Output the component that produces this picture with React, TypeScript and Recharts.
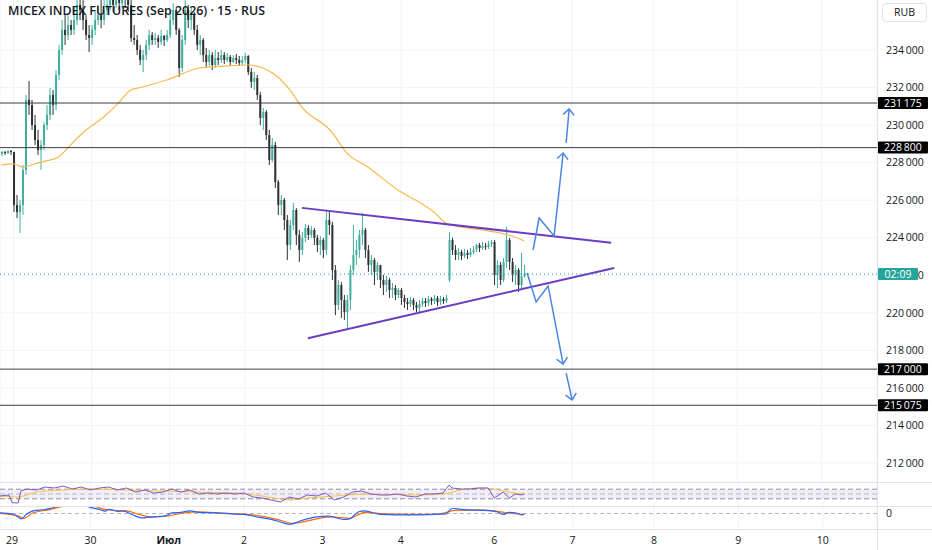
import React from 'react';
import { ComposedChart, Bar, Line, XAxis, YAxis, CartesianGrid, ReferenceLine, ReferenceArea } from 'recharts';

// ---------- candles (15 min bars) ----------
const OPEN = [
  228460, 228570, 228510, 228620, 228570, 225740, 225370, 225740, 227610, 231340,
  231070, 230000, 229210, 228670, 228940, 230000, 230540, 231600, 231070, 232670,
  234000, 235070, 234800, 235330, 235070, 235600, 236400, 236130, 235600, 234800,
  234640, 235070, 235600, 235860, 235600, 236130, 236400, 236930, 236400, 236770,
  236500, 236930, 236660, 236400, 234640, 234530, 234000, 233470, 233730, 234270,
  234800, 234530, 234640, 234430, 234750, 234530, 234800, 235600, 236130, 235070,
  233040, 234530, 236130, 235600, 235860, 235070, 234270, 234530, 233730, 233360,
  233730, 233200, 233570, 233470, 233730, 233470, 233630, 233360, 233570, 233470,
  233310, 233470, 233680, 232830, 232300, 232510, 231600, 230380, 230700, 229470,
  228140, 228940, 226970, 225740, 226010, 224940, 223610, 224680, 225480, 224150,
  223350, 223990, 224520, 224150, 224410, 223990, 223610, 223880, 223350, 224940,
  224680, 222280, 220420, 221480, 220680, 220040, 220680, 222280, 223080, 223350,
  224150, 224410, 223350, 222550, 222810, 222180, 222550, 221750, 221480, 221750,
  221220, 221320, 220950, 221220, 220790, 220580, 220470, 220680, 220420, 220260,
  220470, 220630, 220520, 220740, 220630, 220790, 220580, 220740, 220630, 221750,
  223880, 223350, 223080, 223240, 223030, 223190, 223080, 223240, 223350, 223610,
  223450, 223560, 223510, 223670, 223770, 222020, 222550, 221750, 222710, 223880,
  222710, 222020, 222280, 221480, 221960,
];
const HIGH = [
  228620, 228620, 228670, 228670, 228570, 226280, 226010, 227870, 231600, 232350,
  231340, 230540, 229740, 229210, 230160, 231070, 231980, 231870, 232930, 234270,
  235600, 235860, 235860, 235600, 236240, 236660, 236930, 236660, 235860, 235330,
  235330, 236130, 236400, 236660, 236930, 237200, 237460, 237200, 237460, 237200,
  237730, 237300, 237200, 236660, 235330, 234800, 234270, 234000, 234530, 235070,
  234960, 234910, 234800, 235070, 234800, 235070, 236130, 236500, 236240, 235170,
  234800, 236660, 236400, 236240, 236020, 235330, 234800, 234640, 234110, 234000,
  233890, 234000, 233890, 234000, 233890, 233840, 233730, 233730, 233790, 233680,
  233680, 233840, 233730, 233040, 232830, 232670, 231760, 230910, 230800, 229740,
  229310, 229100, 227080, 226280, 226120, 225210, 224940, 225850, 225580, 224410,
  224310, 224730, 224680, 224630, 224520, 224150, 224090, 223990, 225480, 225370,
  224840, 222550, 221750, 221640, 220950, 220950, 222550, 224680, 223880, 224410,
  225320, 224520, 223610, 223080, 222920, 222710, 222550, 222020, 221960, 221860,
  221590, 221480, 221320, 221320, 220950, 220790, 220840, 220790, 220580, 220680,
  220790, 220790, 220900, 220840, 220950, 220900, 220900, 220840, 220950, 224310,
  223990, 223610, 223450, 223350, 223400, 223350, 223450, 223560, 223670, 223720,
  223770, 223720, 223830, 223880, 223880, 222810, 222710, 222920, 224570, 223990,
  222920, 222550, 222390, 223190, 222550,
];
const LOW = [
  228350, 228410, 228460, 228410, 225370, 225050, 224250, 225210, 227340, 230540,
  229740, 228940, 228410, 227610, 228670, 229740, 230270, 230540, 230800, 232400,
  233730, 234270, 234530, 234800, 234800, 235330, 235600, 235070, 234530, 233890,
  234270, 234800, 235330, 235170, 235330, 235860, 236130, 236020, 236240, 236130,
  236240, 236240, 236020, 234430, 234270, 233730, 233200, 232830, 233470, 234000,
  234270, 234270, 234110, 234270, 234210, 234430, 234640, 235330, 234800, 232560,
  232830, 234270, 235170, 235070, 234800, 234000, 233730, 233360, 233040, 233150,
  232930, 233040, 233200, 233310, 233250, 233360, 233200, 233310, 233250, 233150,
  233200, 233310, 232670, 231980, 231870, 231340, 230000, 229740, 229210, 227870,
  228030, 226650, 225210, 225210, 224410, 222810, 223350, 224410, 223610, 222710,
  223080, 223770, 223880, 223990, 223610, 223240, 223080, 222920, 223080, 224150,
  221750, 219880, 220150, 219720, 219620, 219080, 220150, 222020, 222550, 222920,
  223610, 222920, 222180, 222020, 221480, 221750, 221320, 220950, 221110, 220790,
  220790, 220680, 220790, 220420, 220260, 220150, 220310, 220150, 220040, 220040,
  220310, 220310, 220360, 220420, 220470, 220360, 220420, 220470, 220520, 221640,
  223080, 222810, 222810, 222810, 222920, 222870, 222970, 223130, 223240, 223240,
  223350, 223350, 223400, 223510, 221480, 221320, 221480, 221640, 222390, 222280,
  221640, 221480, 221110, 221320, 221860,
];
const CLOSE = [
  228570, 228510, 228620, 228570, 225740, 225370, 225740, 227610, 231340, 231070,
  230000, 229210, 228670, 228940, 230000, 230540, 231600, 231070, 232670, 234000,
  235070, 234800, 235330, 235070, 235600, 236400, 236130, 235600, 234800, 234640,
  235070, 235600, 235860, 235600, 236130, 236400, 236930, 236400, 236770, 236500,
  236930, 236660, 236400, 234640, 234530, 234000, 233470, 233730, 234270, 234800,
  234530, 234640, 234430, 234750, 234530, 234800, 235600, 236130, 235070, 233040,
  234530, 236130, 235600, 235860, 235070, 234270, 234530, 233730, 233360, 233730,
  233200, 233570, 233470, 233730, 233470, 233630, 233360, 233570, 233470, 233310,
  233470, 233680, 232830, 232300, 232510, 231600, 230380, 230700, 229470, 228140,
  228940, 226970, 225740, 226010, 224940, 223610, 224680, 225480, 224150, 223350,
  223990, 224520, 224150, 224410, 223990, 223610, 223880, 223350, 224940, 224680,
  222280, 220420, 221480, 220680, 220040, 220680, 222280, 223080, 223350, 224150,
  224410, 223350, 222550, 222810, 222180, 222550, 221750, 221480, 221750, 221220,
  221320, 220950, 221220, 220790, 220580, 220470, 220680, 220420, 220260, 220470,
  220630, 220520, 220740, 220630, 220790, 220580, 220740, 220630, 220790, 223880,
  223350, 223080, 223240, 223030, 223190, 223080, 223240, 223350, 223610, 223450,
  223560, 223510, 223670, 223770, 222020, 222550, 221750, 222710, 223880, 222710,
  222020, 222280, 221480, 221960, 222120,
];

// ---------- overlays: [bar slot, price] ----------
const SMA_POINTS: [number, number][] = [
  [0, 227870], [4, 227930], [7, 227770], [13, 228030], [19, 228300], [22, 228780],
  [27, 229580], [34, 230430], [39, 231180], [43, 231870], [47, 232030], [55, 232400],
  [66, 233040], [75, 233150], [82, 233200], [87, 233040], [92, 232560], [96, 231870],
  [100, 230960], [110, 229630], [115, 228510], [122, 227770], [133, 226430], [139, 225900],
  [144, 225370], [148, 224780], [153, 224570], [160, 224410], [166, 224250], [170, 224090],
  [174, 223830],
];
const TRIANGLE_UPPER: [number, number][] = [[100, 225590], [203, 223730]];
const TRIANGLE_LOWER: [number, number][] = [[102, 218650], [204, 222390]];
const ARROW_UP_1: [number, number][] = [[177, 223350], [179, 225050], [184, 224090], [187, 228510]];
const ARROW_UP_2: [number, number][] = [[188, 229050], [189, 230860]];
const ARROW_DOWN_1: [number, number][] = [[175, 222120], [178, 220580], [182, 221430], [187, 217270]];
const ARROW_DOWN_2: [number, number][] = [[188, 216790], [190, 215360]];

const LEVELS = [231175, 228800, 217000, 215075];
const LAST_PRICE = 222070;
const COUNTDOWN = '02:09';
const PRICE_TICKS = [212000, 214000, 216000, 218000, 220000, 222000, 224000, 226000, 228000, 230000, 232000, 234000];
const PRICE_DOMAIN: [number, number] = [210988, 238794];

const DAY_TICKS = [4, 30, 56, 81, 107, 133, 164, 190, 217, 245, 273];
const DAY_LABELS = ['29', '30', 'Июл', '2', '3', '4', '6', '7', '8', '9', '10'];
const SLOTS = 292;

// ---------- RSI pane ----------
const RSI_POINTS: [number, number][] = [
  [0, 41.7], [3, 45.8], [4, 14], [6, 12.5], [7, 64], [9, 70.8], [12, 66.7], [15, 79], [18, 75],
  [21, 83], [24, 70.8], [27, 79], [30, 66.7], [33, 75], [36, 79], [39, 66.7], [42, 75], [45, 58],
  [48, 66.7], [51, 54], [54, 58], [57, 70.8], [60, 58], [63, 66.7], [66, 50], [69, 54], [72, 50],
  [75, 54], [78, 50], [81, 54], [84, 37.5], [87, 33.3], [90, 25], [93, 16.7], [96, 37.5], [99, 29],
  [102, 45.8], [105, 41.7], [108, 54], [111, 25], [114, 37.5], [117, 58], [120, 62.5], [123, 50],
  [126, 45.8], [129, 45.8], [132, 50], [135, 41.7], [138, 37.5], [141, 50], [144, 50], [147, 54],
  [149, 87.5], [150, 75], [153, 70.8], [156, 70.8], [159, 75], [162, 75], [164, 33], [165, 41.7],
  [167, 58], [169, 33], [171, 50], [173, 45.8], [174, 50],
];
const RSI_MA_POINTS: [number, number][] = [
  [0, 41.7], [6, 37.5], [12, 58], [21, 66.7], [30, 70.8], [42, 66.7], [54, 62.5], [66, 58],
  [78, 54], [87, 41.7], [96, 25], [102, 33], [111, 41.7], [123, 50], [138, 45.8], [147, 50],
  [153, 66.7], [159, 75], [164, 70.8], [169, 58], [174, 50],
];

// ---------- MACD pane ----------
const MACD_POINTS: [number, number][] = [
  [0, 40], [4, -18], [6, -216], [7, -318], [9, -18], [11, 162], [15, 240], [19, 432], [21, 642],
  [26, 822], [29, 444], [33, 240], [35, 144], [36, 252], [39, 132], [41, 144], [44, -78], [47, -258],
  [51, -198], [55, -138], [57, 42], [60, 72], [63, 162], [66, 72], [72, 42], [77, -18], [82, -78],
  [86, -228], [90, -348], [94, -558], [96, -648], [99, -498], [100, -420], [109, -156], [114, -360],
  [116, -318], [119, 102], [121, 162], [126, -48], [136, -78], [144, -48], [148, -18], [150, 300],
  [153, 252], [159, 192], [163, 162], [165, 102], [167, -60], [169, 72], [171, 42], [173, -78], [174, -60],
];
const SIGNAL_POINTS: [number, number][] = [
  [0, 12], [6, -138], [8, -288], [11, 42], [16, 222], [20, 402], [24, 582], [31, 462], [34, 282],
  [38, 192], [42, 162], [46, -48], [50, -198], [56, -138], [61, 42], [66, 102], [74, 12], [82, -48],
  [88, -198], [92, -348], [97, -588], [102, -438], [110, -198], [116, -288], [121, 72], [128, -18],
  [145, -48], [151, 192], [158, 222], [164, 162], [168, 42], [174, -48],
];
const MACD_DOMAIN: [number, number] = [-930, 450];

// ---------- build rows ----------
type Row = Record<string, any>;
const rows: Row[] = Array.from({ length: SLOTS }, (_, i) => {
  const has = i < CLOSE.length;
  return {
    i,
    range: has ? [LOW[i], HIGH[i]] : null,
    open: has ? OPEN[i] : null,
    high: has ? HIGH[i] : null,
    low: has ? LOW[i] : null,
    close: has ? CLOSE[i] : null,
  };
});
const put = (key: string, pts: [number, number][]) => pts.forEach(([i, v]) => { rows[i][key] = v; });
put('sma', SMA_POINTS);
put('triU', TRIANGLE_UPPER);
put('triL', TRIANGLE_LOWER);
put('arrU1', ARROW_UP_1);
put('arrU2', ARROW_UP_2);
put('arrD1', ARROW_DOWN_1);
put('arrD2', ARROW_DOWN_2);
put('rsi', RSI_POINTS);
put('rsiMa', RSI_MA_POINTS);
put('macd', MACD_POINTS);
put('signal', SIGNAL_POINTS);

// ---------- styles ----------
const FONT = "'Open Sans', 'Liberation Sans', sans-serif";
const TEXT = '#131722';
const UP = '#3fae9e';
const DOWN = '#2f3033';
const GRID = '#f0f3fa';
const SEP = '#e0e3eb';
const ARROW = '#4a84e3';
const PURPLE = '#6a3dc2';

const fmt = (n: number) => String(n).replace(/\B(?=(\d{3})+(?!\d))/g, '\u2009');

const Candle = (props: any) => {
  const { x, y, width, height, payload } = props;
  if (!payload || payload.high == null) return <g />;
  const top = Math.min(y, y + height);
  const h = Math.abs(height);
  const span = payload.high - payload.low || 1;
  const yOf = (v: number) => top + ((payload.high - v) / span) * h;
  const cx = x + width / 2;
  const up = payload.close >= payload.open;
  const color = up ? UP : DOWN;
  const bTop = yOf(Math.max(payload.open, payload.close));
  const bBot = yOf(Math.min(payload.open, payload.close));
  return (
    <g>
      <line x1={cx} x2={cx} y1={top} y2={top + h} stroke={color} strokeWidth={1} />
      <rect x={cx - 1} y={bTop} width={2} height={Math.max(1, bBot - bTop)} fill={color} />
    </g>
  );
};

const arrowDot = (tip: number, angle: number, down: boolean) => (props: any) => {
  const { cx, cy, payload } = props;
  if (!payload || payload.i !== tip || cy == null || cx == null) return <g key={props.index} />;
  const d = down
    ? `M ${cx - 5.5} ${cy - 6} L ${cx} ${cy} L ${cx + 5.5} ${cy - 6}`
    : `M ${cx - 5.5} ${cy + 6} L ${cx} ${cy} L ${cx + 5.5} ${cy + 6}`;
  return (
    <path key={props.index} d={d} fill="none" stroke={ARROW} strokeWidth={1.5}
      transform={`rotate(${down ? -angle : angle} ${cx} ${cy})`} />
  );
};

const boxLabel = (text: string, bg: string, w: number) => (props: any) => {
  const vb = props.viewBox || {};
  const x = (vb.x || 0) + (vb.width || 0) + 1;
  const y = vb.y || 0;
  return (
    <g>
      <rect x={x} y={y - 6} width={w} height={12} fill={bg} rx={1} />
      <text x={x + w / 2} y={y} dy="0.36em" textAnchor="middle" fill="#ffffff" fontSize={10.5}
        fontFamily={FONT}>{text}</text>
    </g>
  );
};

const DayTick = (props: any) => {
  const { x, y, payload } = props;
  const idx = DAY_TICKS.indexOf(payload.value);
  const label = idx >= 0 ? DAY_LABELS[idx] : '';
  return (
    <text x={x} y={y} dy="0.71em" textAnchor="middle" fontSize={10.5} fill={TEXT}
      fontFamily={FONT} fontWeight={label === 'Июл' ? 700 : 400}>{label}</text>
  );
};

const tickStyle = { fontSize: 10.5, fill: TEXT, fontFamily: FONT };

export default function App() {
  return (
    <div style={{ position: 'relative', width: 932, height: 550, background: '#ffffff', overflow: 'hidden', fontFamily: FONT }}>
      <style>{'body{margin:0}'}</style>

      {/* main price pane */}
      <div style={{ position: 'absolute', left: 0, top: 0, width: 932, height: 482, overflow: 'hidden' }}>
        <div style={{ position: 'absolute', left: 0, top: -40 }}>
          <ComposedChart width={932} height={522} data={rows} margin={{ top: 0, right: 0, bottom: 0, left: 0 }}>
            <CartesianGrid stroke={GRID} />
            <XAxis dataKey="i" type="category" ticks={DAY_TICKS} hide />
            <YAxis orientation="right" width={55} domain={PRICE_DOMAIN} allowDataOverflow ticks={PRICE_TICKS} interval={0}
              tickFormatter={fmt} tick={tickStyle} tickLine={false} axisLine={false} tickSize={6} tickMargin={3} />
            <Bar dataKey="range" shape={Candle} barSize={2} isAnimationActive={false} />
            <Line dataKey="sma" type="monotone" stroke="#f8b84e" strokeWidth={1.2} dot={false} activeDot={false} connectNulls isAnimationActive={false} />
            <Line dataKey="triU" type="linear" stroke={PURPLE} strokeWidth={2} dot={false} activeDot={false} connectNulls isAnimationActive={false} />
            <Line dataKey="triL" type="linear" stroke={PURPLE} strokeWidth={2} dot={false} activeDot={false} connectNulls isAnimationActive={false} />
            <Line dataKey="arrU1" type="linear" stroke={ARROW} strokeWidth={1.5} dot={arrowDot(187, 6, false)} activeDot={false} connectNulls isAnimationActive={false} />
            <Line dataKey="arrU2" type="linear" stroke={ARROW} strokeWidth={1.5} dot={arrowDot(189, 5, false)} activeDot={false} connectNulls isAnimationActive={false} />
            <Line dataKey="arrD1" type="linear" stroke={ARROW} strokeWidth={1.5} dot={arrowDot(187, 11, true)} activeDot={false} connectNulls isAnimationActive={false} />
            <Line dataKey="arrD2" type="linear" stroke={ARROW} strokeWidth={1.5} dot={arrowDot(190, 12, true)} activeDot={false} connectNulls isAnimationActive={false} />
            {LEVELS.map((lv) => (
              <ReferenceLine key={lv} y={lv} stroke="#3b3e45" strokeWidth={1} label={boxLabel(fmt(lv), '#000000', 50)} />
            ))}
          </ComposedChart>
        </div>
        {/* last-price line and countdown tag, drawn above the price scale */}
        <div style={{ position: 'absolute', left: 0, top: -40 }}>
          <ComposedChart width={932} height={522} data={rows} margin={{ top: 0, right: 0, bottom: 0, left: 0 }}>
            <XAxis dataKey="i" type="category" hide />
            <YAxis orientation="right" width={55} domain={PRICE_DOMAIN} allowDataOverflow tick={false} tickLine={false} axisLine={false} />
            <ReferenceLine y={LAST_PRICE} stroke="#26a69a" strokeWidth={1} strokeDasharray="1 3" label={boxLabel(COUNTDOWN, '#26a69a', 40)} />
          </ComposedChart>
        </div>
      </div>

      {/* RSI pane */}
      <div style={{ position: 'absolute', left: 0, top: 482 }}>
        <ComposedChart width={932} height={24} data={rows} margin={{ top: 0, right: 55, bottom: 0, left: 0 }}>
          <CartesianGrid stroke={GRID} horizontal={false} />
          <XAxis dataKey="i" type="category" ticks={DAY_TICKS} hide />
          <YAxis domain={[0, 100]} allowDataOverflow hide />
          <ReferenceArea y1={30} y2={70} fill="#7e57c2" fillOpacity={0.1} strokeOpacity={0} />
          <ReferenceLine y={70} stroke="#8d909a" strokeDasharray="5 3" />
          <ReferenceLine y={50} stroke="#b8bac2" strokeDasharray="5 3" />
          <ReferenceLine y={30} stroke="#8d909a" strokeDasharray="5 3" />
          <Line dataKey="rsiMa" type="monotone" stroke="#f6c344" strokeWidth={1} dot={false} activeDot={false} connectNulls isAnimationActive={false} />
          <Line dataKey="rsi" type="linear" stroke="#7e57c2" strokeWidth={1} dot={false} activeDot={false} connectNulls isAnimationActive={false} />
        </ComposedChart>
      </div>

      {/* MACD pane + time axis */}
      <div style={{ position: 'absolute', left: 0, top: 506 }}>
        <ComposedChart width={932} height={44} data={rows} margin={{ top: 0, right: 0, bottom: 0, left: 0 }}>
          <CartesianGrid stroke={GRID} horizontal={false} />
          <XAxis dataKey="i" type="category" ticks={DAY_TICKS} interval={0} height={21} tickSize={0} tickMargin={8}
            axisLine={false} tickLine={false} tick={DayTick} />
          <YAxis orientation="right" width={55} domain={MACD_DOMAIN} allowDataOverflow ticks={[0]} interval={0}
            tick={tickStyle} tickLine={false} axisLine={false} tickSize={6} tickMargin={3} />
          <ReferenceLine y={0} stroke="#b2b5be" strokeDasharray="4 3" />
          <Line dataKey="signal" type="monotone" stroke="#ff6d00" strokeWidth={1.2} dot={false} activeDot={false} connectNulls isAnimationActive={false} />
          <Line dataKey="macd" type="monotone" stroke="#2962ff" strokeWidth={1.2} dot={false} activeDot={false} connectNulls isAnimationActive={false} />
        </ComposedChart>
      </div>

      {/* pane separators and price-scale border */}
      <div style={{ position: 'absolute', left: 0, top: 482, width: 932, height: 1, background: SEP }} />
      <div style={{ position: 'absolute', left: 0, top: 506, width: 932, height: 1, background: SEP }} />
      <div style={{ position: 'absolute', left: 0, top: 529, width: 932, height: 1, background: SEP }} />
      <div style={{ position: 'absolute', left: 877, top: 0, width: 1, height: 550, background: SEP }} />

      {/* title and currency */}
      <div style={{ position: 'absolute', left: 8, top: 4, fontSize: 12.4, lineHeight: '14px', fontWeight: 600, color: TEXT, whiteSpace: 'nowrap' }}>
        MICEX INDEX FUTURES (Sep 2026) · 15 · RUS
      </div>
      <div style={{ position: 'absolute', left: 882, top: 3, width: 43, height: 17, border: `1px solid ${SEP}`, borderRadius: 4,
        fontSize: 10.5, lineHeight: '17px', textAlign: 'center', color: TEXT }}>
        RUB
      </div>
    </div>
  );
}
